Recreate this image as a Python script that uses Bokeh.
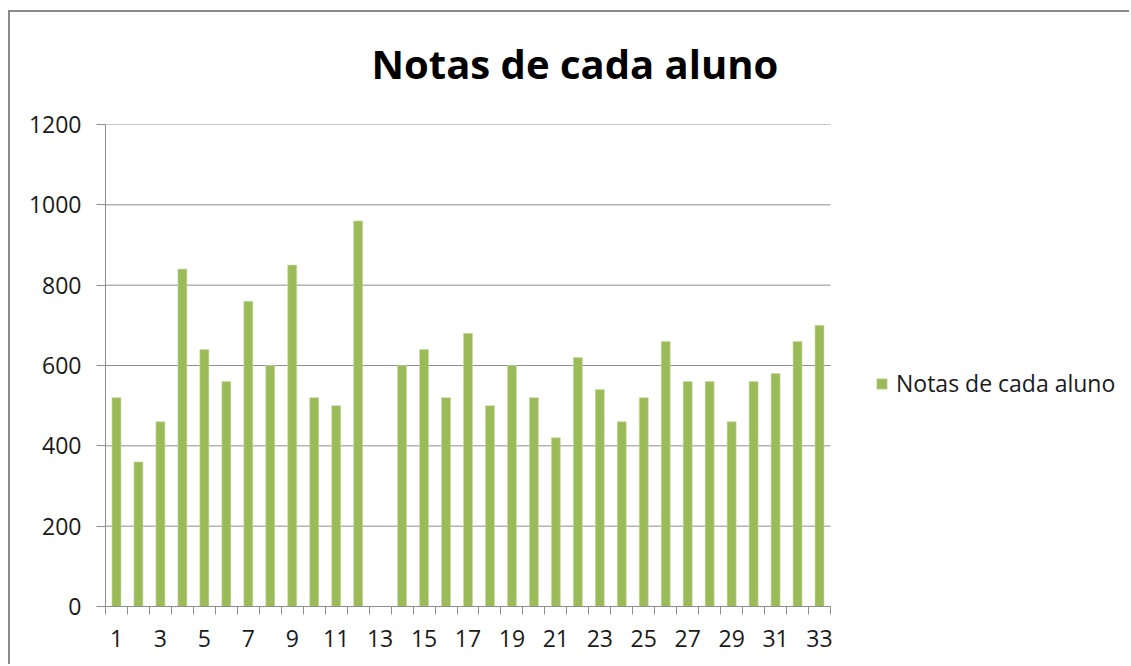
from bokeh.plotting import figure
from bokeh.models import FixedTicker, Legend, LegendItem, ColumnDataSource, Range1d, Spacer
from bokeh.layouts import column, row
from bokeh.embed import file_html
from bokeh.resources import INLINE

alunos = list(range(1, 34))
notas = [520, 360, 460, 840, 640, 560, 760, 600, 850, 520, 500, 960, 0,
         600, 640, 520, 680, 500, 600, 520, 420, 620, 540, 460, 520, 660,
         560, 560, 460, 560, 580, 660, 700]
y_ticks = [0, 200, 400, 600, 800, 1000, 1200]
x_label_ticks = [a for a in alunos if a % 2 == 1]
serie = "Notas de cada aluno"
titulo = "Notas de cada aluno"

FONT = "Open Sans"
GRAY = "#8E8E8E"
GREEN = "#9BBB59"

# layout (pixels)
FIG_W, FIG_H = 1121, 654
ML, MR, MT, MB = 95, 0, 112, 60
PLOT_W = 725  # width used by the bars; the rest of the frame hosts the legend
frame_w = FIG_W - ML - MR
x0 = alunos[0] - 0.5
x1 = alunos[-1] + 0.5
x_end = x0 + (x1 - x0) * frame_w / PLOT_W

src = ColumnDataSource(dict(x=alunos, top=notas))
grid_src = ColumnDataSource(dict(x0=[x0] * len(y_ticks), x1=[x1] * len(y_ticks),
                                 y=y_ticks))

p = figure(width=FIG_W, height=FIG_H, output_backend="svg", toolbar_location=None,
           x_range=Range1d(x0, x_end), y_range=Range1d(0, y_ticks[-1]),
           min_border_left=ML, min_border_right=MR, min_border_top=MT,
           min_border_bottom=MB)
p.styles = {"border-left": "2px solid #8A8A8A", "border-top": "2px solid #8A8A8A"}
p.outline_line_color = None
p.background_fill_color = "white"
p.xgrid.grid_line_color = None
p.ygrid.grid_line_color = None

# horizontal gridlines limited to the plot area
p.segment(x0="x0", x1="x1", y0="y", y1="y", source=grid_src,
          line_color=GRAY, line_width=1)

r = p.vbar(x="x", top="top", width=0.41, bottom=0, source=src,
           fill_color=GREEN, line_color="#C9DBA8", line_width=0.6)

# title
p.title.text = titulo
p.title.text_font = FONT
p.title.text_font_style = "bold"
p.title.text_font_size = "40px"
p.title.align = "left"
p.title.offset = 266
p.title.standoff = 0
p.title.padding = {"left": 0, "right": 0, "top": 0, "bottom": 34}
p.title.vertical_align = "bottom"
p.title.text_color = "black"

# x axis
xa = p.xaxis[0]
xa.bounds = (x0, x1)
xa.ticker = FixedTicker(ticks=x_label_ticks,
                        minor_ticks=[a - 0.5 for a in alunos] + [x1])
xa.major_tick_out = 0
xa.major_tick_in = 0
xa.minor_tick_out = 8
xa.minor_tick_in = 0
xa.minor_tick_line_color = GRAY
xa.axis_line_color = GRAY
xa.major_label_text_font = FONT
xa.major_label_text_font_size = "23px"
xa.major_label_text_color = "#1a1a1a"
xa.major_label_standoff = 15

# y axis
ya = p.yaxis[0]
ya.bounds = (y_ticks[0], y_ticks[-1])
ya.ticker = FixedTicker(ticks=y_ticks)
ya.major_tick_out = 9
ya.major_tick_in = 0
ya.minor_tick_out = 0
ya.minor_tick_in = 0
ya.major_tick_line_color = GRAY
ya.axis_line_color = GRAY
ya.major_label_text_font = FONT
ya.major_label_text_font_size = "23px"
ya.major_label_text_color = "#1a1a1a"
ya.major_label_standoff = 15

legend = Legend(items=[LegendItem(label=serie, renderers=[r])],
                location=(770, 207), orientation="vertical")
legend.border_line_color = None
legend.background_fill_alpha = 0
legend.padding = 0
legend.margin = 0
legend.glyph_width = 13
legend.glyph_height = 13
legend.label_standoff = 8
legend.label_text_font = FONT
legend.label_text_font_size = "23px"
legend.label_text_color = "#1a1a1a"
p.add_layout(legend, "center")

root = column(Spacer(height=10), row(Spacer(width=8), p))
open("out.html", "w").write(file_html(root, INLINE))
